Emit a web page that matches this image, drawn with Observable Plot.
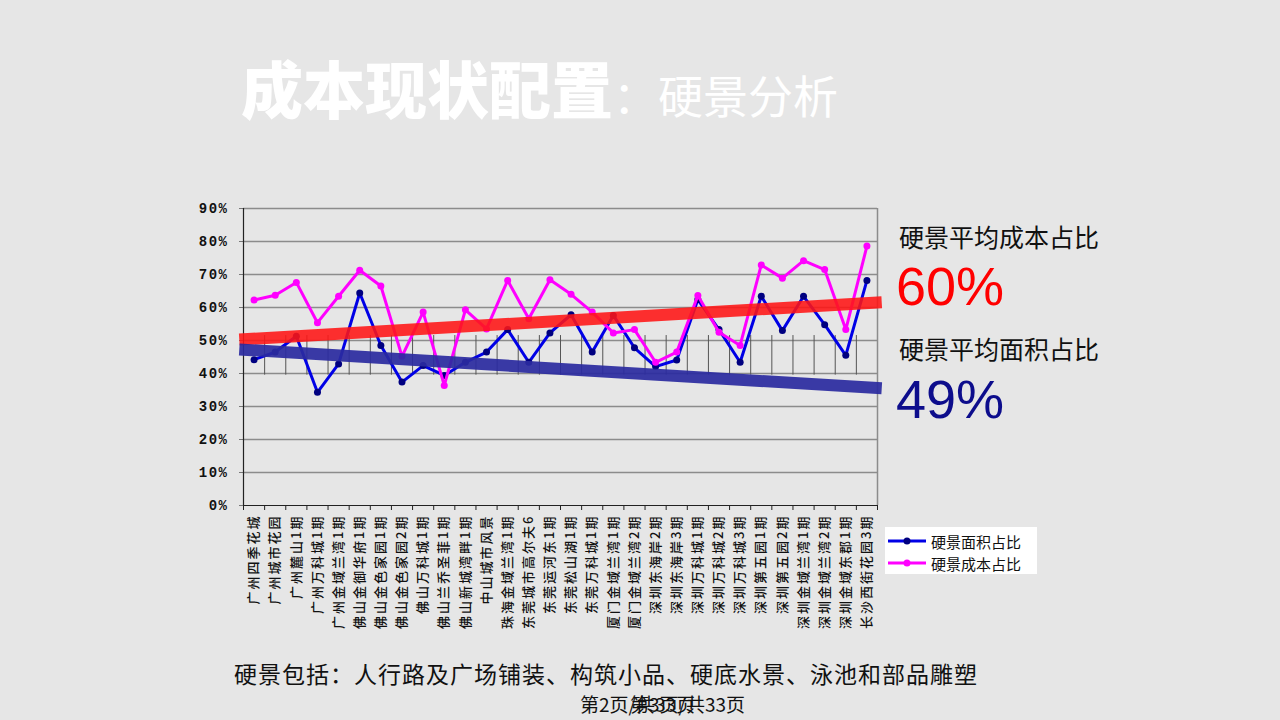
<!DOCTYPE html>
<html><head><meta charset="utf-8">
<script src="https://cdn.jsdelivr.net/npm/d3@7"></script>
<script src="https://cdn.jsdelivr.net/npm/@observablehq/plot@0.6"></script>
<style>
html,body{margin:0;padding:0;background:#e6e6e6;}
#page{position:relative;width:1280px;height:720px;background:#e6e6e6;overflow:hidden;font-family:"Noto Sans CJK SC","Noto Sans",sans-serif;}
.abs{position:absolute;white-space:nowrap;line-height:1;}
#chart{position:absolute;left:0;top:0;}
.chart g[aria-label="x-axis tick label"] text{letter-spacing:2px;}
.chart g[aria-label="y-axis tick label"] text{letter-spacing:1.5px;}
#legend{position:absolute;left:885px;top:527px;width:152px;height:47px;background:#fff;}
.lrow{position:absolute;left:3px;height:20px;display:flex;align-items:center;font-size:15px;color:#111;}
</style></head>
<body><div id="page">
  <div class="abs" style="left:241px;top:56px;font-size:62px;font-weight:900;color:#fff;">成本现状配置<span style="font-size:45px;font-weight:400;">：硬景分析</span></div>
  <div id="chart"></div>
  <div class="abs" style="left:899px;top:224px;font-size:25px;color:#111;">硬景平均成本占比</div>
  <div class="abs" style="left:896px;top:259px;font-size:54px;color:#ff0000;font-family:'Liberation Sans',Arial,sans-serif;">60%</div>
  <div class="abs" style="left:899px;top:336px;font-size:25px;color:#111;">硬景平均面积占比</div>
  <div class="abs" style="left:896px;top:372px;font-size:54px;color:#0d0d8c;font-family:'Liberation Sans',Arial,sans-serif;">49%</div>
  <div id="legend"></div>
  <div class="abs" style="left:234px;top:662px;font-size:23px;letter-spacing:1px;color:#111;">硬景包括：人行路及广场铺装、构筑小品、硬底水景、泳池和部品雕塑</div>
  <div class="abs" style="left:580px;top:694px;font-size:19px;color:#111;">第2页/共33页</div>
  <div class="abs" style="left:630px;top:694px;font-size:19px;color:#111;">第3页/共33页</div>
</div>
<script>
const categories = ["广州四季花城","广州城市花园","广州麓山1期","广州万科城1期","广州金域兰湾1期","佛山金御华府1期","佛山金色家园1期","佛山金色家园2期","佛山万科城1期","佛山兰乔圣菲1期","佛山新城湾畔1期","中山城市风景","珠海金域兰湾1期","东莞城市高尔夫6","东莞运河东1期","东莞松山湖1期","东莞万科城1期","厦门金域兰湾1期","厦门金域兰湾2期","深圳东海岸2期","深圳东海岸3期","深圳万科城1期","深圳万科城2期","深圳万科城3期","深圳第五园1期","深圳第五园2期","深圳金域兰湾1期","深圳金域兰湾2期","深圳金域东郡1期","长沙西街花园3期"];
const areaShare = [44.2,46.5,51.3,34.3,42.9,64.4,48.5,37.4,42.4,39.4,43.4,46.5,53.3,43.4,52.3,57.8,46.5,57.6,47.8,42.1,44.1,62.4,53.3,43.4,63.4,53.0,63.4,54.8,45.5,68.2];
const costShare = [62.3,63.7,67.6,55.4,63.4,71.3,66.5,45.2,58.6,36.4,59.3,53.5,68.2,56.6,68.4,64.0,58.6,52.3,53.3,43.4,46.5,63.6,52.5,48.5,72.9,68.9,74.2,71.5,53.3,78.6];
const trendX = [-0.7, 29.7];
const costTrend = [50.3, 61.6];
const areaTrend = [47.3, 35.5];
const yTicks = [0,10,20,30,40,50,60,70,80,90];
const dropRange = [39.5, 51.5];
const seriesNames = ["硬景面积占比","硬景成本占比"];

const idx = categories.map((c,i)=>i);
const boundaries = d3.range(categories.length + 1).map(i => i - 0.5);
const innerBounds = boundaries.slice(1, -1);
const area = idx.map(i => ({i, v: areaShare[i]}));
const cost = idx.map(i => ({i, v: costShare[i]}));
const costT = trendX.map((x,k) => ({x, y: costTrend[k]}));
const areaT = trendX.map((x,k) => ({x, y: areaTrend[k]}));

const chart = Plot.plot({
  className: "chart",
  width: 1280, height: 720,
  marginLeft: 243, marginRight: 403, marginTop: 208, marginBottom: 215,
  style: {background: "transparent", overflow: "visible"},
  x: {domain: [-0.5, categories.length - 0.5]},
  y: {domain: [0, 90]},
  marks: [
    Plot.ruleY(yTicks.slice(1), {stroke: "#8c8c8c", strokeWidth: 1.5}),
    Plot.ruleX([categories.length - 0.5], {stroke: "#8c8c8c", strokeWidth: 1.5}),
    Plot.ruleX(innerBounds, {y1: dropRange[0], y2: dropRange[1], stroke: "#555", strokeWidth: 1}),
    Plot.axisY({ticks: yTicks, tickFormat: d => d + "%", tickSize: 4, tickPadding: 11, stroke: "#777",
      fontFamily: "Liberation Mono", fontWeight: "bold", fontSize: 14, fill: "#111", label: null}),
    Plot.axisX({ticks: idx, tickFormat: i => categories[i], tickRotate: -90, tickSize: 0, tickPadding: 9,
      fontFamily: "Noto Sans CJK SC", fontSize: 13, fontWeight: 500, fill: "#111", label: null}),
    Plot.axisX({ticks: boundaries, tickFormat: () => "", tickSize: 5, stroke: "#222", label: null}),
    Plot.ruleX([-0.5], {stroke: "#222", strokeWidth: 1.2}),
    Plot.ruleY([0], {stroke: "#222", strokeWidth: 1.2}),
    Plot.line(area, {x: "i", y: "v", stroke: "#0000e6", strokeWidth: 3}),
    Plot.dot(area, {x: "i", y: "v", fill: "#000080", r: 3.5}),
    Plot.line(cost, {x: "i", y: "v", stroke: "#ff00ff", strokeWidth: 3}),
    Plot.dot(cost, {x: "i", y: "v", fill: "#ff00ff", r: 3.5}),
    Plot.line(costT, {x: "x", y: "y", stroke: "#ff1414", strokeWidth: 12, strokeOpacity: 0.88, strokeLinecap: "butt"}),
    Plot.line(areaT, {x: "x", y: "y", stroke: "#2a2aa0", strokeWidth: 12, strokeOpacity: 0.92, strokeLinecap: "butt"})
  ]
});
document.getElementById("chart").appendChild(chart);

// legend
const legendColors = [["#0000e6","#000080"],["#ff00ff","#ff00ff"]];
const lg = document.getElementById("legend");
seriesNames.forEach((name, k) => {
  const row = document.createElement("div");
  row.className = "lrow";
  row.style.top = (4 + k * 22) + "px";
  row.innerHTML = `<svg width="40" height="12" style="margin-right:3px"><line x1="0" y1="6" x2="38" y2="6" stroke="${legendColors[k][0]}" stroke-width="3"/><circle cx="19" cy="6" r="3.5" fill="${legendColors[k][1]}"/></svg>${name}`;
  lg.appendChild(row);
});
</script>
</body></html>
